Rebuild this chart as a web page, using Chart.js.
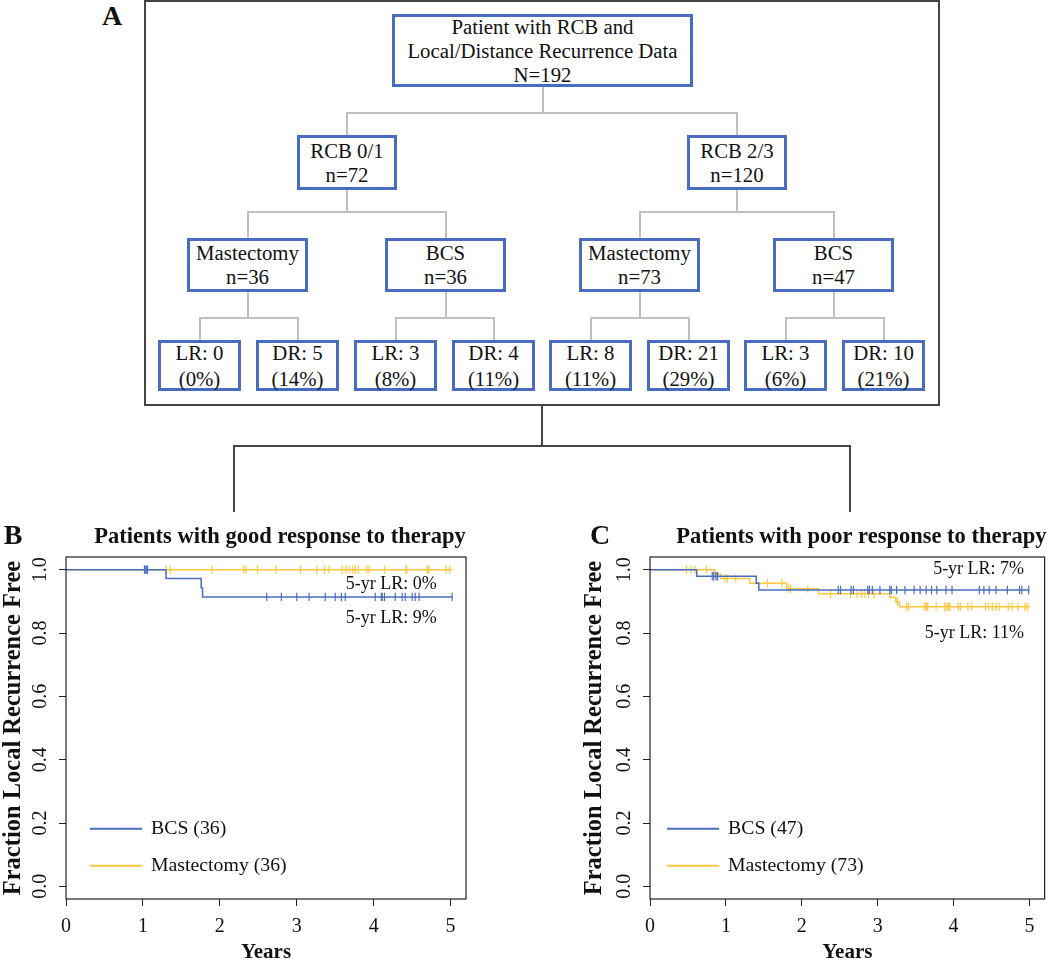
<!DOCTYPE html>
<html><head><meta charset="utf-8">
<script src="https://cdn.jsdelivr.net/npm/chart.js@4.4.0/dist/chart.umd.min.js"></script>
<style>
html,body{margin:0;padding:0;background:#fff;width:1050px;height:961px;overflow:hidden;}
body{position:relative;font-family:'Liberation Serif','Times New Roman',serif;color:#111;}
.box{position:absolute;box-sizing:border-box;border:3px solid #4a6cc0;background:#fff;text-align:center;font-size:20.8px;line-height:24px;display:flex;flex-direction:column;justify-content:center;white-space:nowrap;}
.leaf{line-height:25.5px;}
.ln{position:absolute;background:#c0c0c0;}
.dk{position:absolute;background:#444;}
.letter{position:absolute;font-weight:bold;font-size:28px;line-height:28px;transform:translate(-50%,-50%);}
canvas{position:absolute;}
</style></head>
<body>
<div id="flow"></div>
<canvas id="chartB" width="480" height="460" style="left:0px;top:505px;"></canvas>
<canvas id="chartC" width="480" height="460" style="left:570px;top:505px;"></canvas>
<script>
// ================= DATA =================
// Flowchart (panel A)
const rootLabel = ['Patient with RCB and', 'Local/Distance Recurrence Data', 'N=192'];
const rcbGroups = ['RCB 0/1', 'RCB 2/3'];
const rcbN = [72, 120];
const surgery = ['Mastectomy', 'BCS', 'Mastectomy', 'BCS'];
const surgeryN = [36, 36, 73, 47];
const outcomeType = ['LR', 'DR', 'LR', 'DR', 'LR', 'DR', 'LR', 'DR'];
const outcomeCount = [0, 5, 3, 4, 8, 21, 3, 10];
const outcomePct = [0, 14, 8, 11, 11, 29, 6, 21];

// Axis ticks
const yearTicks = [0, 1, 2, 3, 4, 5];
const fracTicks = [0, 0.2, 0.4, 0.6, 0.8, 1.0];

// Panel B: good response (RCB 0/1) - Kaplan-Meier steps
const bBcsTimes = [0, 1.30, 1.757, 1.775, 5.02];
const bBcsSurv  = [1, 0.972, 0.943, 0.914, 0.914];
const bBcsCensor = [1.02, 1.03, 1.05, 1.06, 2.61, 2.80, 3.00, 3.16, 3.37, 3.50, 3.58, 3.63, 4.02, 4.10, 4.11, 4.14, 4.28, 4.37, 4.41, 4.50, 4.54, 4.59, 5.02];
const bMasTimes = [0, 5.02];
const bMasSurv  = [1, 1];
const bMasCensor = [1.30, 1.355, 1.90, 2.31, 2.34, 2.49, 2.73, 3.05, 3.26, 3.36, 3.42, 3.59, 3.64, 3.68, 3.73, 3.76, 3.80, 3.91, 3.94, 4.14, 4.42, 4.43, 4.70, 4.72, 4.94, 4.99];
const bFiveYrLR = [9, 0]; // BCS, Mastectomy

// Panel C: poor response (RCB 2/3)
const cBcsTimes = [0, 0.615, 1.40, 1.434, 5.00];
const cBcsSurv  = [1, 0.979, 0.957, 0.936, 0.936];
const cBcsCensor = [0.82, 0.84, 0.87, 0.89, 2.48, 2.51, 2.65, 2.68, 2.87, 2.89, 2.93, 3.03, 3.16, 3.18, 3.25, 3.36, 3.48, 3.56, 3.64, 3.71, 3.78, 3.90, 3.98, 4.34, 4.40, 4.47, 4.56, 4.71, 4.87, 4.90, 4.99];
const cMasTimes = [0, 0.854, 0.932, 1.313, 1.80, 2.22, 3.16, 3.24, 3.29, 5.01];
const cMasSurv  = [1, 0.986, 0.972, 0.957, 0.940, 0.924, 0.912, 0.898, 0.883, 0.883];
const cMasCensor = [0.48, 0.54, 0.59, 0.745, 0.99, 1.02, 1.13, 1.55, 1.74, 1.82, 1.85, 2.08, 2.38, 2.64, 2.73, 2.79, 2.83, 2.88, 2.95, 3.26, 3.38, 3.41, 3.62, 3.64, 3.66, 3.77, 3.88, 3.91, 3.93, 3.95, 4.06, 4.09, 4.19, 4.24, 4.42, 4.46, 4.51, 4.56, 4.60, 4.72, 4.77, 4.85, 4.94, 4.97];
const cFiveYrLR = [7, 11]; // BCS, Mastectomy

// ================= FLOWCHART LAYOUT =================
const flow = document.getElementById('flow');
function el(cls, l, t, w, h, html) {
  const d = document.createElement('div');
  d.className = cls;
  d.style.left = l + 'px'; d.style.top = t + 'px';
  d.style.width = w + 'px'; d.style.height = h + 'px';
  if (html !== undefined) d.innerHTML = html;
  flow.appendChild(d);
  return d;
}
function hline(cls, x1, x2, y) { el(cls, x1 - 1, y - 1, x2 - x1 + 2, 2); }
function vline(cls, x, y1, y2) { el(cls, x - 1, y1, 2, y2 - y1); }

const outer = el('', 144, 0, 796, 406);
outer.style.position = 'absolute'; outer.style.boxSizing = 'border-box'; outer.style.border = '2px solid #444';

const LAY = {
  root: {x: 392, y: 14, w: 301, h: 73},
  rcbX: [297, 687], rcbY: 135, rcbW: 100, rcbH: 55,
  surgX: [187, 385, 579, 773], surgY: 238, surgW: 121, surgH: 54,
  leafX: [158, 256, 354, 452, 549, 647, 744, 842], leafY: 340, leafW: 83, leafH: 51
};
const rootC = LAY.root.x + LAY.root.w / 2;
const rcbC = LAY.rcbX.map(v => v + LAY.rcbW / 2);
const surgC = LAY.surgX.map(v => v + LAY.surgW / 2);
const leafC = LAY.leafX.map(v => v + LAY.leafW / 2);

// connectors
vline('ln', rootC, LAY.root.y + LAY.root.h, 113);
hline('ln', rcbC[0], rcbC[1], 113);
rcbC.forEach(c => vline('ln', c, 113, LAY.rcbY));
rcbC.forEach((c, i) => {
  vline('ln', c, LAY.rcbY + LAY.rcbH, 212);
  hline('ln', surgC[2 * i], surgC[2 * i + 1], 212);
  vline('ln', surgC[2 * i], 212, LAY.surgY);
  vline('ln', surgC[2 * i + 1], 212, LAY.surgY);
});
surgC.forEach((c, i) => {
  vline('ln', c, LAY.surgY + LAY.surgH, 318);
  hline('ln', leafC[2 * i], leafC[2 * i + 1], 318);
  vline('ln', leafC[2 * i], 318, LAY.leafY);
  vline('ln', leafC[2 * i + 1], 318, LAY.leafY);
});

// boxes
el('box', LAY.root.x, LAY.root.y, LAY.root.w, LAY.root.h, rootLabel.map(s => '<div>' + s + '</div>').join(''));
rcbGroups.forEach((g, i) => el('box', LAY.rcbX[i], LAY.rcbY, LAY.rcbW, LAY.rcbH, '<div>' + g + '</div><div>n=' + rcbN[i] + '</div>'));
surgery.forEach((s, i) => el('box', LAY.surgX[i], LAY.surgY, LAY.surgW, LAY.surgH, '<div>' + s + '</div><div>n=' + surgeryN[i] + '</div>'));
outcomeType.forEach((t, i) => el('box leaf', LAY.leafX[i], LAY.leafY, LAY.leafW, LAY.leafH, '<div>' + t + ': ' + outcomeCount[i] + '</div><div>(' + outcomePct[i] + '%)</div>'));

// lower connectors to panels B / C
vline('dk', 542, 405, 446);
hline('dk', 234, 850, 446);
vline('dk', 234, 446, 512);
vline('dk', 850, 446, 512);

const letterA = el('letter', 112, 16, 0, 0, 'A');
letterA.style.width = 'auto'; letterA.style.height = 'auto';

// ================= KM CHARTS =================
const FONT = "'Liberation Serif', 'Times New Roman', serif";
Chart.defaults.font.family = FONT;
Chart.defaults.color = '#111';
const BLUE = '#4a6cc4';
const YELLOW = '#fdc63c';

function survAt(times, surv, t) {
  let s = surv[0];
  for (let i = 0; i < times.length; i++) if (times[i] <= t) s = surv[i];
  return s;
}
function steps(times, surv) { return times.map((t, i) => ({x: t, y: surv[i]})); }
function marks(censor, times, surv) { return censor.map(t => ({x: t, y: survAt(times, surv, t)})); }

const kmDecor = {
  id: 'kmDecor',
  afterDraw(chart, args, o) {
    const {ctx, chartArea: a, scales: {x, y}} = chart;
    ctx.save();
    ctx.strokeStyle = '#222'; ctx.lineWidth = 1.2;
    ctx.strokeRect(a.left, a.top, a.right - a.left, a.bottom - a.top);
    ctx.fillStyle = '#111';
    ctx.textAlign = 'center'; ctx.textBaseline = 'middle';
    ctx.font = '20px ' + FONT;
    y.ticks.forEach(t => {
      const py = y.getPixelForValue(t.value);
      ctx.save(); ctx.translate(a.left - o.yLabelOffset, py); ctx.rotate(-Math.PI / 2);
      ctx.fillText(t.value.toFixed(1), 0, 0); ctx.restore();
    });
    ctx.font = 'bold 22.5px ' + FONT;
    ctx.fillText(o.title, (a.left + a.right) / 2 + o.titleDX, o.titleY);
    ctx.font = 'bold 28px ' + FONT;
    ctx.fillText(o.letter, o.letterX, o.titleY);
    ctx.font = '18px ' + FONT; ctx.textAlign = 'right';
    o.notes.forEach(n => ctx.fillText(n.text, x.getPixelForValue(n.x), y.getPixelForValue(n.y)));
    ctx.font = '19.8px ' + FONT; ctx.textAlign = 'left';
    chart.data.datasets.filter(d => d.legendRow !== undefined).forEach(d => {
      const py = y.getPixelForValue(o.legendY[d.legendRow]);
      const x0 = a.left + o.legendX;
      ctx.strokeStyle = d.borderColor; ctx.lineWidth = 2;
      ctx.beginPath(); ctx.moveTo(x0, py); ctx.lineTo(x0 + 52, py); ctx.stroke();
      ctx.fillText(d.label, x0 + 61, py);
    });
    ctx.restore();
  }
};

function kmChart(id, cfg) {
  const lineDs = (label, times, surv, color, row) => ({
    label, data: steps(times, surv), borderColor: color, borderWidth: 1.5,
    stepped: 'before', pointRadius: 0, fill: false, tension: 0, legendRow: row
  });
  const markDs = (censor, times, surv, color) => ({
    data: marks(censor, times, surv), showLine: false, pointStyle: 'line', pointRotation: 90,
    pointRadius: 4.2, pointBorderWidth: 1.2, pointBorderColor: color, borderColor: color, pointBackgroundColor: color
  });
  return new Chart(document.getElementById(id), {
    type: 'line',
    data: {
      datasets: [
        lineDs(cfg.bcsLabel, cfg.bcs[0], cfg.bcs[1], BLUE, 0),
        markDs(cfg.bcs[2], cfg.bcs[0], cfg.bcs[1], BLUE),
        lineDs(cfg.masLabel, cfg.mas[0], cfg.mas[1], YELLOW, 1),
        markDs(cfg.mas[2], cfg.mas[0], cfg.mas[1], YELLOW)
      ]
    },
    options: {
      responsive: false, animation: false, devicePixelRatio: 1,
      layout: {padding: {left: 0, right: cfg.padR, top: 52, bottom: 0}},
      plugins: {
        legend: {display: false}, tooltip: {enabled: false},
        kmDecor: {
          title: cfg.title, letter: cfg.letter, letterX: cfg.letterX, titleY: 32, titleDX: 14,
          yLabelOffset: 25, notes: cfg.notes, legendX: cfg.legendX, legendY: [0.182, 0.065]
        }
      },
      scales: {
        x: {
          type: 'linear', min: 0, max: 5.2,
          afterBuildTicks: s => { s.ticks = yearTicks.map(v => ({value: v})); },
          afterFit: s => { s.height = 66; },
          grid: {drawOnChartArea: false, drawTicks: true, tickLength: 7, color: '#222', lineWidth: 1},
          border: {display: false},
          ticks: {font: {size: 20, lineHeight: 1}, color: '#111', padding: 10.5, maxRotation: 0, minRotation: 0, callback: v => String(v)},
          title: {display: true, text: 'Years', font: {size: 21, weight: 'bold', lineHeight: 1}, color: '#111', padding: {top: 0, bottom: 1.5}}
        },
        y: {
          type: 'linear', min: -0.04, max: 1.04,
          afterBuildTicks: s => { s.ticks = fracTicks.map(v => ({value: v})); },
          afterFit: s => { s.width = cfg.yW; },
          grid: {drawOnChartArea: false, drawTicks: true, tickLength: 7, color: '#222', lineWidth: 1},
          border: {display: false},
          ticks: {display: false},
          title: {display: true, text: 'Fraction Local Recurrence Free', font: {size: 24.5, weight: 'bold', lineHeight: 1}, color: '#111', padding: {top: cfg.yTitlePad, bottom: 0}}
        }
      }
    },
    plugins: [kmDecor]
  });
}

kmChart('chartB', {
  title: 'Patients with good response to therapy', letter: 'B', letterX: 13,
  bcs: [bBcsTimes, bBcsSurv, bBcsCensor], mas: [bMasTimes, bMasSurv, bMasCensor],
  bcsLabel: 'BCS (' + surgeryN[1] + ')', masLabel: 'Mastectomy (' + surgeryN[0] + ')',
  yW: 66, padR: 14, yTitlePad: 1, legendX: 24,
  notes: [
    {text: '5-yr LR: ' + bFiveYrLR[1] + '%', x: 4.82, y: 0.955},
    {text: '5-yr LR: ' + bFiveYrLR[0] + '%', x: 4.82, y: 0.8475}
  ]
});
kmChart('chartC', {
  title: 'Patients with poor response to therapy', letter: 'C', letterX: 30,
  bcs: [cBcsTimes, cBcsSurv, cBcsCensor], mas: [cMasTimes, cMasSurv, cMasCensor],
  bcsLabel: 'BCS (' + surgeryN[3] + ')', masLabel: 'Mastectomy (' + surgeryN[2] + ')',
  yW: 80, padR: 1, yTitlePad: 12.5, legendX: 17,
  notes: [
    {text: '5-yr LR: ' + cFiveYrLR[0] + '%', x: 4.93, y: 1.0},
    {text: '5-yr LR: ' + cFiveYrLR[1] + '%', x: 4.93, y: 0.80}
  ]
});
</script>
</body></html>
